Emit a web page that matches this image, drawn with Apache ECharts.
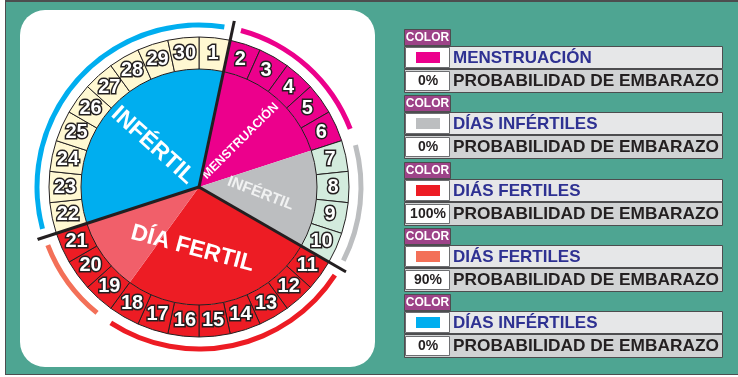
<!DOCTYPE html>
<html>
<head>
<meta charset="utf-8">
<script src="https://cdn.jsdelivr.net/npm/echarts@6/dist/echarts.min.js"></script>
<style>
  html, body { margin: 0; padding: 0; background: #fff; }
  #wrap { position: relative; width: 738px; height: 377px; overflow: hidden; }
  .frame { position: absolute; left: 5px; top: 0; width: 740px; height: 372px; background: #4ea592; border-top: 2px solid #4d4d4f; border-left: 1px solid #4d4d4f; border-bottom: 1px solid #4d4d4f; }
  .panel { position: absolute; left: 20px; top: 10px; width: 355px; height: 357px; background: #fff; border-radius: 25px; }
  #chart { position: absolute; left: 0; top: 0; width: 738px; height: 377px; }
</style>
</head>
<body>
<div id="wrap">
  <div class="frame"></div>
  <div class="panel"></div>
  <div id="chart"></div>
</div>
<script>
// days of the cycle, drawn clockwise from the top
const dayNumbers = [1, 2, 3, 4, 5, 6, 7, 8, 9, 10, 11, 12, 13, 14, 15,
  16, 17, 18, 19, 20, 21, 22, 23, 24, 25, 26, 27, 28, 29, 30]
const dayPhase = ['inf', 'men', 'men', 'men', 'men', 'men', 'gry', 'gry', 'gry', 'gry',
  'fer', 'fer', 'fer', 'fer', 'fer', 'fer', 'fer', 'fer', 'fer', 'fer', 'fer',
  'inf', 'inf', 'inf', 'inf', 'inf', 'inf', 'inf', 'inf', 'inf']

// inner wedges, starting at day 22 (blue, menstr., grey, fertile 100%, fertile 90%)
const bandDays = [10, 5, 4, 8, 3]
const wedgeLabels = ['INFÉRTIL', 'MENSTRUACIÓN', 'INFÉRTIL', 'DÍA FERTIL']
const wedgeDays = [10, 5, 4, 11]
const dividerDays = [1, 10, 21]

const legendTitles = ['MENSTRUACIÓN', 'DÍAS INFÉRTILES', 'DIÁS FERTILES', 'DIÁS FERTILES', 'DÍAS INFÉRTILES']
const legendProbs = ['0%', '0%', '100%', '90%', '0%']
const legendText = 'PROBABILIDAD DE EMBARAZO'

// styles
const bandColors = ['#00aeef', '#ec008c', '#bcbec0', '#ed1c24', '#f15f6a']
const arcColors = ['#00aeef', '#ec008c', '#bcbec0', '#ed1c24', '#f37058']
const cellColors = { inf: '#fff8d2', men: '#ec008c', gry: '#d3ebdd', fer: '#ed1c24' }
const legendSwatch = ['#ec008c', '#bcbec0', '#ed1c24', '#f37058', '#00aeef']
const wedgeRotate = [-42, 45, -21, -15]
const wedgeFont = [23, 12.5, 15.5, 23]
const wedgeColor = ['#fff', '#fff', '#f1f2f2', '#fff']
const FONT = '"Liberation Sans", Arial, sans-serif'
const CENTER = [199, 187]
const START = 90 - 21 * 12   // day 22 boundary
const DAY_DEG = 360 / dayNumbers.length

let myChart = echarts.init(document.getElementById('chart'), null, { renderer: 'canvas' })

let legendEls = []
legendTitles.forEach((t, i) => {
  const y0 = Math.round(29 + i * 66.25)
  legendEls.push(
    { type: 'rect', shape: { x: 404.5, y: y0 + 0.5, width: 46, height: 16 },
      style: { fill: '#9d4388', stroke: '#4d4d4f', lineWidth: 1 } },
    { type: 'text', x: 427.5, y: y0 + 9,
      style: { text: 'COLOR', fill: '#fff', font: 'bold 12px ' + FONT, align: 'center', verticalAlign: 'middle', textAlign: 'center', textVerticalAlign: 'middle' } },
    { type: 'rect', shape: { x: 404.5, y: y0 + 17.5, width: 318, height: 22 },
      style: { fill: '#e6e7e8', stroke: '#4d4d4f', lineWidth: 1 } },
    { type: 'rect', shape: { x: 405.5, y: y0 + 18.5, width: 44, height: 20 },
      style: { fill: '#fff', stroke: '#6d6e71', lineWidth: 1 } },
    { type: 'rect', shape: { x: 416, y: y0 + 23, width: 24, height: 11 },
      style: { fill: legendSwatch[i] } },
    { type: 'text', x: 453, y: y0 + 29,
      style: { text: t, fill: '#2e3192', font: 'bold 17px ' + FONT, align: 'left', verticalAlign: 'middle', textAlign: 'left', textVerticalAlign: 'middle' } },
    { type: 'rect', shape: { x: 404.5, y: y0 + 40.5, width: 318, height: 23 },
      style: { fill: '#d1d3d4', stroke: '#4d4d4f', lineWidth: 1 } },
    { type: 'rect', shape: { x: 405.5, y: y0 + 42.5, width: 44, height: 19 },
      style: { fill: '#fff', stroke: '#6d6e71', lineWidth: 1 } },
    { type: 'text', x: 428, y: y0 + 52.5,
      style: { text: legendProbs[i], fill: '#231f20', font: 'bold 14px ' + FONT, align: 'center', verticalAlign: 'middle', textAlign: 'center', textVerticalAlign: 'middle' } },
    { type: 'text', x: 453, y: y0 + 52.5,
      style: { text: legendText, fill: '#231f20', font: 'bold 17.3px ' + FONT, align: 'left', verticalAlign: 'middle', textAlign: 'left', textVerticalAlign: 'middle' } }
  )
})

let option
option = {
  animation: false,
  polar: { center: CENTER, radius: 170 },
  angleAxis: { type: 'value', min: 0, max: 360, startAngle: 90, clockwise: true, show: false },
  radiusAxis: { type: 'value', min: 0, max: 170, show: false },
  graphic: { elements: legendEls },
  series: [
    {
      // inner coloured wedges
      type: 'pie', silent: true, center: CENTER, radius: [0, 118],
      startAngle: START, clockwise: true, z: 2,
      label: { show: false }, labelLine: { show: false },
      itemStyle: { borderWidth: 0 },
      data: bandDays.map((d, i) => ({ value: d, itemStyle: { color: bandColors[i] } }))
    },
    {
      // wedge captions
      type: 'pie', silent: true, center: CENTER, radius: [0, 118],
      startAngle: START, clockwise: true, z: 3,
      labelLine: { show: false },
      data: wedgeDays.map((d, i) => ({
        value: d, name: wedgeLabels[i],
        itemStyle: { color: 'rgba(0,0,0,0)' },
        label: {
          show: true, position: 'inside', formatter: '{b}', rotate: wedgeRotate[i],
          color: wedgeColor[i], fontSize: wedgeFont[i], fontWeight: 'bold', fontFamily: FONT
        }
      }))
    },
    {
      // ring of days
      type: 'pie', silent: true, center: CENTER, radius: [118, 150],
      startAngle: 90, clockwise: true, z: 4,
      label: { show: false }, labelLine: { show: false },
      itemStyle: { borderColor: '#231f20', borderWidth: 1 },
      data: dayNumbers.map((d, i) => ({ value: 1, name: String(d), itemStyle: { color: cellColors[dayPhase[i]] } }))
    },
    {
      // day numbers, centred in each cell
      type: 'scatter', coordinateSystem: 'polar', silent: true, z: 6,
      symbolSize: 1, itemStyle: { color: 'rgba(0,0,0,0)', opacity: 1 },
      label: {
        show: true, position: 'inside', formatter: p => p.name,
        color: '#fff', fontSize: 20, fontWeight: 'bold', fontFamily: FONT,
        textBorderColor: '#231f20', textBorderWidth: 3
      },
      data: dayNumbers.map((d, i) => ({ name: String(d), value: [134, (i + 0.5) * DAY_DEG] }))
    },
    {
      // outer arcs
      type: 'pie', silent: true, center: CENTER, radius: [159.5, 164.5],
      startAngle: START, clockwise: true, padAngle: 6, z: 4,
      label: { show: false }, labelLine: { show: false },
      data: bandDays.map((d, i) => ({ value: d, itemStyle: { color: arcColors[i] } }))
    },
    ...dividerDays.map(d => ({
      type: 'line', coordinateSystem: 'polar', silent: true, symbol: 'none', z: 10,
      lineStyle: { color: '#231f20', width: 3 },
      data: [[0, d * DAY_DEG], [170, d * DAY_DEG]]
    }))
  ]
}
myChart.setOption(option)
</script>
</body>
</html>
